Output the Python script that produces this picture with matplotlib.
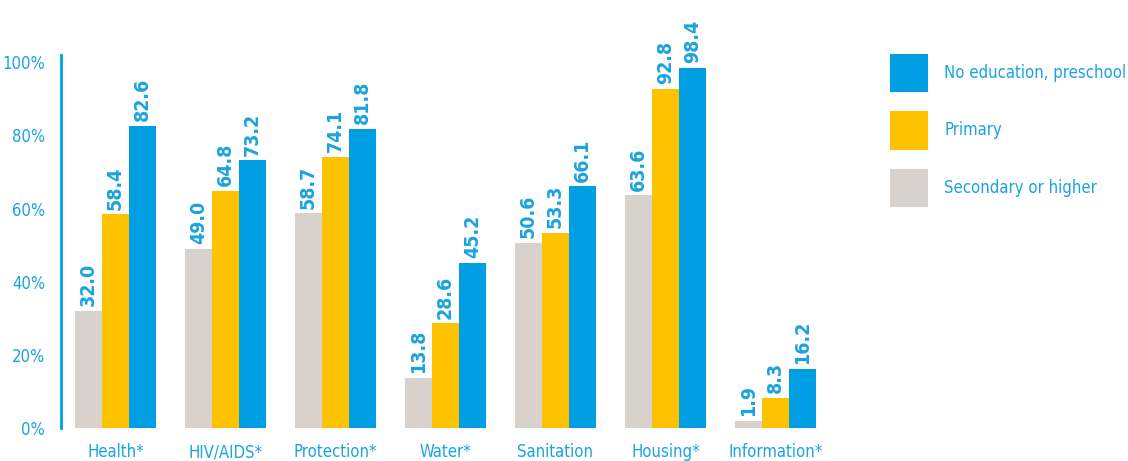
import numpy as np
import matplotlib
matplotlib.use("Agg")
import matplotlib.pyplot as plt

categories = ["Health*", "HIV/AIDS*", "Protection*", "Water*", "Sanitation", "Housing*", "Information*"]
secondary = [32.0, 49.0, 58.7, 13.8, 50.6, 63.6, 1.9]
primary = [58.4, 64.8, 74.1, 28.6, 53.3, 92.8, 8.3]
no_education = [82.6, 73.2, 81.8, 45.2, 66.1, 98.4, 16.2]
y_ticks = [0, 20, 40, 60, 80, 100]

C_BLUE = "#009FE3"
C_YELLOW = "#FDC300"
C_GRAY = "#D9D1CC"
C_TEXT = "#1AA3E0"

plt.rcParams["font.family"] = ["DejaVu Sans"]
plt.rcParams["font.stretch"] = "condensed"

fig = plt.figure(figsize=(11.28, 4.61), dpi=100)
ax = fig.add_axes([60.5 / 1128, 33 / 461, 770 / 1128, 373 / 461])

x = np.arange(len(categories))
w = 0.248
series = [
    (secondary, C_GRAY, "Secondary or higher"),
    (primary, C_YELLOW, "Primary"),
    (no_education, C_BLUE, "No education, preschool"),
]
handles = []
for i, (vals, col, name) in enumerate(series):
    pos = x + (i - 1) * w
    b = ax.bar(pos, vals, width=w, color=col, label=name)
    handles.append(b)
    for px, v in zip(pos, vals):
        ax.text(px, v + 1.3, f"{v:.1f}", rotation=90, ha="center", va="bottom",
                fontsize=14, fontweight="bold", color=C_TEXT)

ax.set_xlim(-0.5, 6.5)
ax.set_ylim(0, 102)
ax.set_yticks(y_ticks)
ax.set_yticklabels([f"{t}%" for t in y_ticks])
ax.set_xticks(x)
ax.set_xticklabels(categories)
ax.tick_params(axis="both", length=0, colors=C_TEXT, labelsize=12)
ax.tick_params(axis="y", pad=11)
ax.tick_params(axis="x", pad=11)
for s in ["top", "right", "bottom"]:
    ax.spines[s].set_visible(False)
ax.spines["left"].set_color(C_BLUE)
ax.spines["left"].set_linewidth(2)

leg = fig.legend(handles[::-1], [h.get_label() for h in handles[::-1]],
                 loc="upper left", bbox_to_anchor=(890 / 1128, 1 - 54 / 461),
                 frameon=False, fontsize=12, handlelength=2.3, handleheight=3.15,
                 labelspacing=1.15, handletextpad=0.95, borderpad=0, borderaxespad=0)
for t in leg.get_texts():
    t.set_color(C_TEXT)

fig.savefig("out.png", dpi=100, facecolor="white")
